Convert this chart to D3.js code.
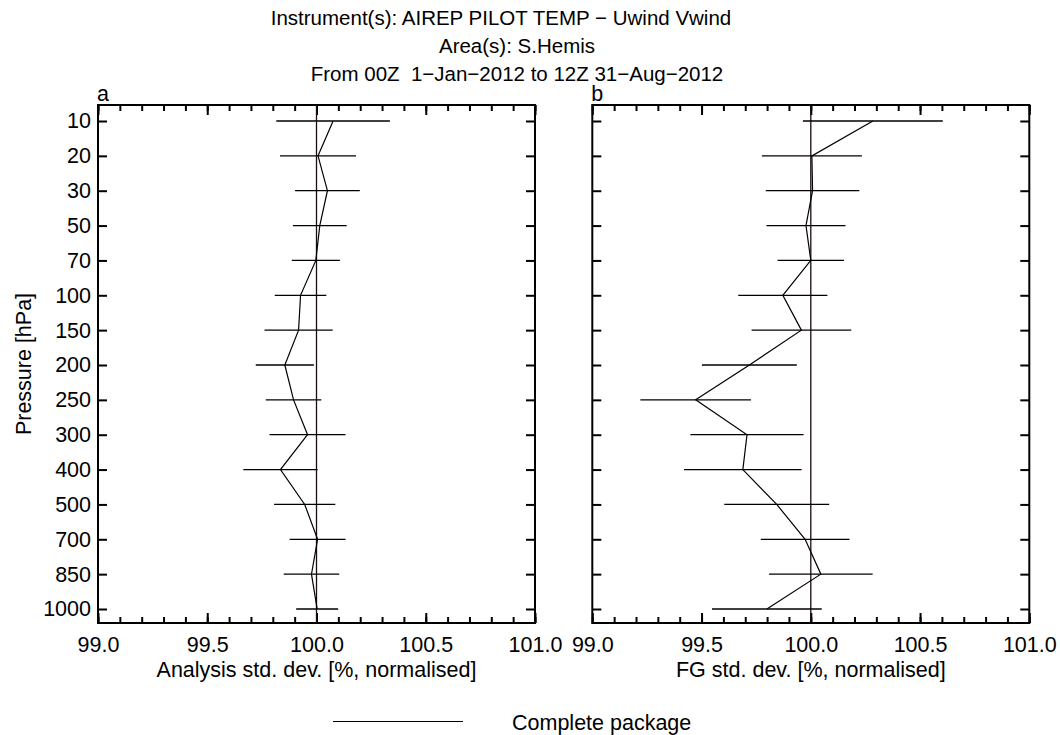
<!DOCTYPE html>
<html>
<head>
<meta charset="utf-8">
<script src="https://cdn.jsdelivr.net/npm/d3@7"></script>
<style>
  body { margin: 0; background: #fff; }
  svg text { font-family: "Liberation Sans", Arial, Helvetica, sans-serif; fill: #000; }
</style>
</head>
<body>
<svg id="chart" width="1060" height="735"></svg>
<script>
// pressure levels (hPa), top to bottom
const levels = [10, 20, 30, 50, 70, 100, 150, 200, 250, 300, 400, 500, 700, 850, 1000];

// panel a: analysis std. dev. (normalised %) and error half-width
const anaMean = [100.076, 100.007, 100.05, 100.015, 99.997, 99.927, 99.918, 99.855, 99.895, 99.959, 99.835, 99.946, 100.005, 99.977, 100.003];
const anaErr  = [0.26, 0.174, 0.148, 0.123, 0.11, 0.118, 0.156, 0.133, 0.127, 0.174, 0.17, 0.14, 0.128, 0.127, 0.096];

// panel b: first guess std. dev.
const fgMean = [100.284, 100.005, 100.008, 99.978, 100.0, 99.872, 99.957, 99.719, 99.473, 99.708, 99.689, 99.844, 99.974, 100.046, 99.799];
const fgErr  = [0.32, 0.229, 0.214, 0.181, 0.152, 0.204, 0.228, 0.217, 0.253, 0.259, 0.269, 0.24, 0.203, 0.237, 0.251];

const xDomain = [99, 101];
const majorTicks = [99.0, 99.5, 100.0, 100.5, 101.0];
const minorTicks = d3.range(0, 21).map(i => 99 + i * 0.1);

const titleLines = [
  "Instrument(s): AIREP PILOT TEMP \u2212 Uwind Vwind",
  "Area(s): S.Hemis",
  "From 00Z  1\u2212Jan\u22122012 to 12Z 31\u2212Aug\u22122012"
];

const svg = d3.select("#chart");
const fs = 21.5;      // axis / legend text
const titleFs = 20.5; // title text

// title
const titleY = [25, 53, 81];
const titleX = [501, 517, 517];
titleLines.forEach((t, i) => {
  svg.append("text")
    .attr("x", titleX[i]).attr("y", titleY[i])
    .attr("text-anchor", "middle")
    .style("font-size", titleFs + "px")
    .style("white-space", "pre")
    .text(t);
});

const frameTop = 105, frameBottom = 623;
const y = d3.scalePoint().domain(levels).range([121, 609]);

const panels = [
  { key: "a", left: 98, right: 535, mean: anaMean, err: anaErr, label: "Analysis std. dev. [%, normalised]", yLabels: true },
  { key: "b", left: 592.3, right: 1029.3, mean: fgMean, err: fgErr, label: "FG std. dev. [%, normalised]", yLabels: false }
];

panels.forEach(p => {
  const x = d3.scaleLinear().domain(xDomain).range([p.left, p.right]);
  const g = svg.append("g");

  // minor x ticks, top and bottom
  g.append("g").attr("transform", `translate(0,${frameBottom})`)
    .call(d3.axisBottom(x).tickValues(minorTicks).tickSize(-6).tickFormat(""));
  g.append("g").attr("transform", `translate(0,${frameTop})`)
    .call(d3.axisTop(x).tickValues(minorTicks).tickSize(-6).tickFormat(""));

  // major x ticks with labels
  g.append("g").attr("transform", `translate(0,${frameBottom})`)
    .call(d3.axisBottom(x).tickValues(majorTicks).tickSize(-10).tickPadding(14).tickFormat(d3.format(".1f")));
  g.append("g").attr("transform", `translate(0,${frameTop})`)
    .call(d3.axisTop(x).tickValues(majorTicks).tickSize(-10).tickFormat(""));

  // y ticks, left and right
  const yl = d3.axisLeft(y).tickSize(-9).tickPadding(7);
  if (!p.yLabels) yl.tickFormat("");
  g.append("g").attr("transform", `translate(${p.left},0)`).call(yl);
  g.append("g").attr("transform", `translate(${p.right},0)`)
    .call(d3.axisRight(y).tickSize(-9).tickFormat(""));

  g.selectAll(".domain").remove();
  g.selectAll(".tick line").attr("stroke", "#000").attr("stroke-width", 2);
  g.selectAll(".tick text").style("font-size", fs + "px").attr("font-family", null);

  // frame
  g.append("rect")
    .attr("x", p.left).attr("y", frameTop)
    .attr("width", p.right - p.left).attr("height", frameBottom - frameTop)
    .attr("fill", "none").attr("stroke", "#000").attr("stroke-width", 2);

  // 100% reference line
  g.append("line")
    .attr("x1", x(100)).attr("x2", x(100))
    .attr("y1", frameTop).attr("y2", frameBottom)
    .attr("stroke", "#1a0d0d").attr("stroke-width", 1.3);

  // error bars
  g.selectAll(".eb")
    .data(levels.map((lev, i) => ({ lev, m: p.mean[i], e: p.err[i] })))
    .enter().append("line")
      .attr("class", "eb")
      .attr("x1", d => x(d.m - d.e)).attr("x2", d => x(d.m + d.e))
      .attr("y1", d => y(d.lev)).attr("y2", d => y(d.lev))
      .attr("stroke", "#000").attr("stroke-width", 1.3);

  // profile line
  const line = d3.line().x(d => x(d.m)).y(d => y(d.lev));
  g.append("path")
    .datum(levels.map((lev, i) => ({ lev, m: p.mean[i] })))
    .attr("d", line)
    .attr("fill", "none").attr("stroke", "#000").attr("stroke-width", 1.2);

  // panel letter
  svg.append("text")
    .attr("x", p.left - 1).attr("y", 101)
    .style("font-size", fs + "px")
    .text(p.key);

  // x axis title
  svg.append("text")
    .attr("x", (p.left + p.right) / 2).attr("y", 677)
    .attr("text-anchor", "middle")
    .style("font-size", fs + "px")
    .text(p.label);
});

// y axis title
svg.append("text")
  .attr("transform", "translate(31,364) rotate(-90)")
  .attr("text-anchor", "middle")
  .style("font-size", fs + "px")
  .text("Pressure [hPa]");

// legend
svg.append("line")
  .attr("x1", 333).attr("x2", 463).attr("y1", 721.5).attr("y2", 721.5)
  .attr("stroke", "#000").attr("stroke-width", 1);
svg.append("text")
  .attr("x", 512).attr("y", 730)
  .style("font-size", fs + "px")
  .text("Complete package");
</script>
</body>
</html>
